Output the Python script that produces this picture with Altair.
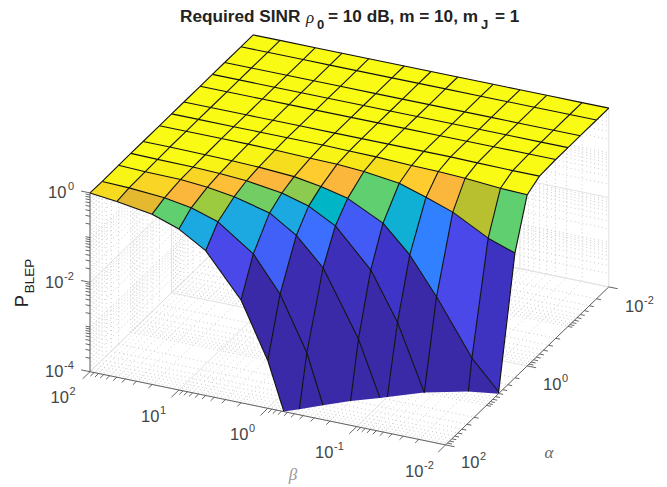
import math
import altair as alt
import pandas as pd

alt.data_transformers.disable_max_rows()

ALPHA = [100, 50, 20, 10, 5, 2, 1, 0.5, 0.2, 0.1, 0.05, 0.02, 0.01]
BETA = [100, 50, 20, 10, 5, 2, 1, 0.5, 0.2, 0.1, 0.05, 0.02, 0.01]

# log10(P_BLEP), one row for each alpha, one column for each beta
LOG_P = [
    [0, -.07, -.19, -.40, -.76, -1.70, -2.93, -4.71, -7, -9, -11, -13, -14],
    [-.01, -.03, -.09, -.19, -.38, -.935, -1.71, -2.90, -5.3, -7, -9, -11, -12],
    [0, -.02, -.03, -.08, -.17, -.37, -.75, -1.35, -2.78, -4.3, -6, -8, -9],
    [0, -.01, -.02, -.04, -.08, -.19, -.36, -.68, -1.50, -2.55, -4.0, -5.6, -6.8],
    [0, 0, -.01, -.02, -.04, -.09, -.19, -.33, -.72, -1.31, -2.12, -3.33, -3.96],
    [0, 0, 0, 0, -.01, -.03, -.04, -.08, -.18, -.37, -.58, -1.0, -1.21],
    [0, 0, 0, 0, 0, 0, -.01, -.02, -.05, -.06, -.09, -.15, -.17],
    [0, 0, 0, 0, 0, 0, 0, 0, 0, 0, -.01, -.02, -.02],
    [0] * 13,
    [0] * 13,
    [0] * 13,
    [0] * 13,
    [0] * 13,
]

# colour value of each facet
CELL_C = [
    [.92, .76, .58, .28, .10, .02, 0, 0, 0, 0, 0, 0],
    [.98, .90, .80, .66, .28, .15, .03, .02, 0, 0, 0, 0],
    [1, .97, .90, .82, .60, .28, .17, .04, .02, 0, 0, 0],
    [1, 1, .98, .92, .80, .63, .36, .14, .06, .02, 0, 0],
    [1, 1, 1, .98, .93, .86, .80, .58, .31, .21, .10, .05],
    [1, 1, 1, 1, 1, .98, .95, .93, .86, .80, .70, .58],
    [1] * 12,
    [1] * 12,
    [1] * 12,
    [1] * 12,
    [1] * 12,
    [1] * 12,
]

C_STOPS = [0, .02, .06, .10, .15, .17, .21, .28, .31, .36, .58, .63, .66, .70, .76, .80, .86, .92, .97, 1]
C_HEX = ["#3A2AA8", "#3B2AA8", "#3E35C8", "#4A48E8", "#4060F8", "#3C6EFF", "#3080FF", "#1CA8E0", "#10B0D5",
         "#00B5C5", "#60CF70", "#8CCB50", "#9CCB40", "#B8C030", "#E4B82F", "#FBB73C", "#FFCC30", "#F5DA20",
         "#F7F015", "#F9FB15"]

# orthographic view of the log-scaled box
ORIGIN = (90.0, 371.7)
PER_BETA = (88.9, 18.3)
PER_ALPHA = (40.8, -39.5)
PER_Z = 44.7
Z_MIN = -4.0


def project(a, b, z):
    return (ORIGIN[0] + b * PER_BETA[0] + a * PER_ALPHA[0],
            ORIGIN[1] + b * PER_BETA[1] + a * PER_ALPHA[1] - (z - Z_MIN) * PER_Z)


A = [2 - math.log10(v) for v in ALPHA]
B = [2 - math.log10(v) for v in BETA]


def clip_poly(poly):
    out = []
    for i, p in enumerate(poly):
        q = poly[(i + 1) % len(poly)]
        if p[2] >= Z_MIN:
            out.append(p)
        if (p[2] >= Z_MIN) != (q[2] >= Z_MIN):
            t = (Z_MIN - p[2]) / (q[2] - p[2])
            out.append(tuple(p[k] + t * (q[k] - p[k]) for k in range(3)))
    return out


def clip_seg(p, q):
    if p[2] < Z_MIN and q[2] < Z_MIN:
        return None
    if p[2] < Z_MIN or q[2] < Z_MIN:
        t = (Z_MIN - p[2]) / (q[2] - p[2])
        m = tuple(p[k] + t * (q[k] - p[k]) for k in range(3))
        return (m, q) if p[2] < Z_MIN else (p, m)
    return p, q


V = [[(A[i], B[j], LOG_P[i][j]) for j in range(13)] for i in range(13)]

cells = []
for i in range(11, -1, -1):
    for j in range(12):
        poly = clip_poly([V[i][j], V[i][j + 1], V[i + 1][j + 1], V[i + 1][j]])
        for k, p in enumerate(poly):
            x, y = project(*p)
            cells.append({"cell": f"{i}-{j}", "k": k, "x": x, "y": y, "c": CELL_C[i][j]})
df_cells = pd.DataFrame(cells)

edges = []
gid = 0


def add_line(rows, pts, **extra):
    global gid
    gid += 1
    for k, p in enumerate(pts):
        rows.append({"g": gid, "k": k, "x": p[0], "y": p[1], **extra})


for i in range(13):
    for j in range(13):
        if j < 12:
            s = clip_seg(V[i][j], V[i][j + 1])
            if s:
                add_line(edges, [project(*s[0]), project(*s[1])])
        if i < 12:
            s = clip_seg(V[i][j], V[i + 1][j])
            if s:
                add_line(edges, [project(*s[0]), project(*s[1])])
df_edges = pd.DataFrame(edges)

DECADES_A = [-2, -1, 0, 1, 2]
DECADES_B = [-2, -1, 0, 1, 2]
DECADES_Z = [-4, -3, -2, -1, 0]
MULT = [1, 2, 3, 4, 5, 6, 7, 8, 9]
MAJOR_A = [-2, 0, 2]
MAJOR_B = [-2, -1, 0, 1, 2]
MAJOR_Z = [-4, -2, 0]


def log_positions(decades, majors):
    res = []
    for d in decades:
        for m in MULT:
            v = d + math.log10(m)
            if v <= decades[-1] + 1e-9:
                res.append((v, m == 1 and d in majors))
    return res


alpha_pos = [(2 - v, mj) for v, mj in log_positions(DECADES_A, MAJOR_A)]
beta_pos = [(2 - v, mj) for v, mj in log_positions(DECADES_B, MAJOR_B)]
z_pos = log_positions(DECADES_Z, MAJOR_Z)

major, minor = [], []
for a, mj in alpha_pos:
    rows = major if mj else minor
    add_line(rows, [project(a, 0, -4), project(a, 4, -4)])
    add_line(rows, [project(a, 0, -4), project(a, 0, 0)])
for b, mj in beta_pos:
    rows = major if mj else minor
    add_line(rows, [project(0, b, -4), project(4, b, -4)])
    add_line(rows, [project(4, b, -4), project(4, b, 0)])
for z, mj in z_pos:
    rows = major if mj else minor
    add_line(rows, [project(0, 0, z), project(4, 0, z)])
    add_line(rows, [project(4, 0, z), project(4, 4, z)])
df_major = pd.DataFrame(major)
df_minor = pd.DataFrame(minor)

ticks = []
add_line(ticks, [project(0, 0, -4), project(0, 0, 0)])
add_line(ticks, [project(0, 0, -4), project(0, 4, -4)])
add_line(ticks, [project(0, 4, -4), project(4, 4, -4)])
for z, mj in z_pos:
    L = 0.10 if mj else 0.05
    add_line(ticks, [project(0, 0, z), project(0, -L, z)])
for b, mj in beta_pos:
    L = 0.18 if mj else 0.09
    add_line(ticks, [project(0, b, -4), project(-L, b, -4)])
for a, mj in alpha_pos:
    L = 0.10 if mj else 0.05
    add_line(ticks, [project(a, 4, -4), project(a, 4 + L, -4)])
df_ticks = pd.DataFrame(ticks)

BASE_X = [48, 45, 45, 50.5, 141, 230, 315, 405, 461, 543, 625]
BASE_Y = [193, 283, 372, 398, 417, 435, 453, 472, 463, 385, 307]
SUP_X = [68, 64, 64, 69.5, 160, 249, 334, 424, 480, 562, 644]
SUP_Y = [187, 277, 366, 392, 411, 429, 447, 466, 457, 379, 301]
SUP_T = ["0", "-2", "-4", "2", "1", "0", "-1", "-2", "2", "0", "-2"]
df_base = pd.DataFrame({"x": BASE_X, "y": BASE_Y, "t": ["10"] * len(BASE_X)})
df_sup = pd.DataFrame({"x": SUP_X, "y": SUP_Y, "t": SUP_T})

X = alt.X("x:Q", scale=alt.Scale(domain=[8, 659]), axis=None)
Y = alt.Y("y:Q", scale=alt.Scale(domain=[485, 8]), axis=None)


def lines(df, **kw):
    return alt.Chart(df).mark_line(**kw).encode(x=X, y=Y, detail="g:N", order="k:Q")


def texts(df, **kw):
    kw.setdefault("align", "left")
    kw.setdefault("baseline", "middle")
    return alt.Chart(df).mark_text(**kw).encode(x=X, y=Y, text="t:N")


def one(x, y, t):
    return pd.DataFrame({"x": [x], "y": [y], "t": [t]})


fills = alt.Chart(df_cells).mark_line(strokeWidth=0, interpolate="linear").encode(
    x=X, y=Y, detail="cell:N", order="k:Q",
    fill=alt.Fill("c:Q", scale=alt.Scale(domain=C_STOPS, range=C_HEX), legend=None),
)

SANS = "Liberation Sans"
SERIF = "Liberation Serif"
TITLE_COLOR = "#222222"
layers = [
    lines(df_minor, color="#aaaaaa", strokeWidth=0.6, strokeDash=[1, 3]),
    lines(df_major, color="#e2e2e2", strokeWidth=1),
    fills,
    lines(df_edges, color="#111111", strokeWidth=1.1),
    lines(df_ticks, color="#555555", strokeWidth=0.9),
    texts(df_base, font=SANS, fontSize=16.5, color="#444444"),
    texts(df_sup, font=SANS, fontSize=11, color="#444444"),
    texts(one(180, 17, "Required SINR"), font=SANS, fontSize=17.2, fontWeight="bold", color=TITLE_COLOR),
    texts(one(306, 18, "ρ"), font=SERIF, fontSize=17, fontStyle="italic", color=TITLE_COLOR),
    texts(one(317, 25, "0"), font=SANS, fontSize=13, fontWeight="bold", color=TITLE_COLOR),
    texts(one(328, 17, "= 10 dB, m = 10, m"), font=SANS, fontSize=17.2, fontWeight="bold", color=TITLE_COLOR),
    texts(one(481, 25, "J"), font=SANS, fontSize=13, fontWeight="bold", color=TITLE_COLOR),
    texts(one(495, 17, "= 1"), font=SANS, fontSize=17.2, fontWeight="bold", color=TITLE_COLOR),
    texts(one(22, 301, "P"), font=SANS, fontSize=18.5, angle=270, align="center", color=TITLE_COLOR),
    texts(one(30, 276, "BLEP"), font=SANS, fontSize=13.5, angle=270, align="center", color=TITLE_COLOR),
    texts(one(549, 453, "α"), font=SERIF, fontSize=17, fontStyle="italic", align="center", color="#666666"),
    texts(one(293, 475, "β"), font=SERIF, fontSize=17, fontStyle="italic", align="center", color="#999999"),
]

chart = alt.layer(*layers).properties(
    width=651, height=477, padding=0, autosize=alt.AutoSizeParams(type="none"),
).configure_view(stroke=None)

chart.save("out.html", embed_options={"renderer": "svg", "actions": False})
